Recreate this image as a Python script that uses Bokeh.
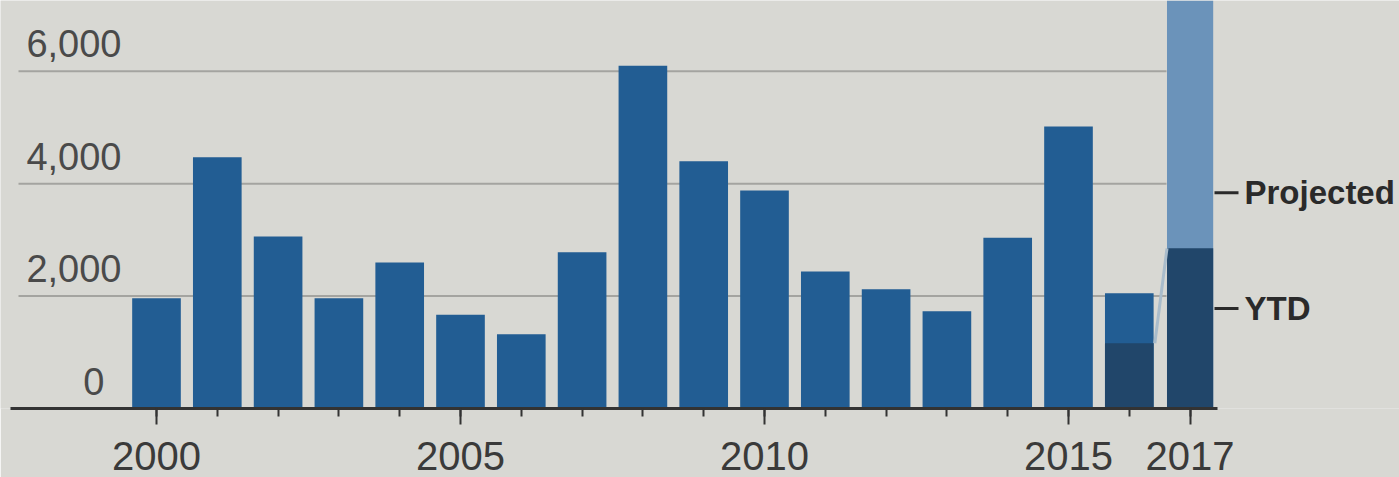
from bokeh.plotting import figure
from bokeh.models import FixedTicker, Range1d
from bokeh.core.properties import value
from bokeh.embed import file_html
from bokeh.resources import INLINE

# ---- data ----
years = list(range(2000, 2017))
totals = [1960, 4470, 3060, 1960, 2600, 1670, 1320, 2780, 6100, 4400,
          3880, 2440, 2120, 1730, 3040, 5020, 2050]
ytd_years = [2016, 2017]
ytd_values = [1160, 2850]
proj_year = 2017
proj_value = 7600

grid_values = [2000, 4000, 6000]
y_tick_labels = ["2,000", "4,000", "6,000"]
zero_label = ["0"]
major_ticks = [2000, 2005, 2010, 2015, 2017]
minor_ticks = list(range(2000, 2018))
side_labels = ["Projected", "YTD"]
side_label_y = [3840, 1780]

BG = "#d8d8d3"
BLUE = "#225d93"
DARK = "#21466a"
LIGHT = "#6b93ba"
TEXT = "#3a3a3a"

W_PX, H_PX = 1399, 477
px_per_year = 60.8
x_center_2000 = 156
x0 = 2000 - x_center_2000 / px_per_year
x1 = 2000 + (W_PX - x_center_2000) / px_per_year


def xp(px):
    """page pixel -> data x"""
    return 2000 + (px - x_center_2000) / px_per_year


p = figure(width=W_PX, height=H_PX, output_backend="svg", toolbar_location=None,
           y_axis_location=None, x_range=Range1d(x0, x1), y_range=Range1d(0, 7260))
p.min_border_left = 0
p.min_border_right = 0
p.min_border_top = 0
p.min_border_bottom = 69
p.outline_line_color = None
p.background_fill_color = BG
p.border_fill_color = BG
p.xgrid.visible = False
p.ygrid.visible = False

# grid lines
p.segment(x0=[xp(18)] * len(grid_values), x1=[xp(1166)] * len(grid_values),
          y0=grid_values, y1=grid_values, line_color="#a4a4a0", line_width=2)

# bars
p.vbar(x=years, top=totals, width=0.8, bottom=0, fill_color=BLUE, line_color=None)
p.vbar(x=[proj_year], top=[proj_value], width=0.76, bottom=0, fill_color=LIGHT, line_color=None)
p.vbar(x=[ytd_years[0]], top=[ytd_values[0]], width=0.8, bottom=0, fill_color=DARK, line_color=None)
p.vbar(x=[ytd_years[1]], top=[ytd_values[1]], width=0.76, bottom=0, fill_color=DARK, line_color=None)

# connector YTD 2016 -> 2017
p.segment(x0=[ytd_years[0] + 0.42], y0=[ytd_values[0]], x1=[ytd_years[1] - 0.38], y1=[ytd_values[1]],
          line_color="#a9bccb", line_width=3)

# y tick labels (above grid lines)
p.text(x=[xp(121)] * len(grid_values), y=grid_values, text=y_tick_labels,
       text_align="right", text_baseline="bottom", y_offset=-14,
       text_font=value("Liberation Sans"), text_font_size="38px", text_color="#4a4a4a")
p.text(x=[xp(104)], y=[0], text=zero_label,
       text_align="right", text_baseline="bottom", y_offset=-14,
       text_font=value("Liberation Sans"), text_font_size="38px", text_color="#4a4a4a")

# side labels
p.segment(x0=[xp(1214)] * 2, x1=[xp(1238)] * 2, y0=side_label_y, y1=side_label_y,
          line_color="#2a2a2a", line_width=3)
p.text(x=[xp(1244)] * 2, y=side_label_y, text=side_labels,
       text_align="left", text_baseline="middle",
       text_font=value("Liberation Sans"), text_font_style="bold",
       text_font_size="33px", text_color="#2a2a2a")

# x axis
ax = p.xaxis[0]
ax.ticker = FixedTicker(ticks=major_ticks, minor_ticks=minor_ticks)
ax.bounds = (xp(10), xp(1217))
ax.axis_line_color = "#333333"
ax.axis_line_width = 3
ax.major_tick_line_color = "#333333"
ax.major_tick_line_width = 2
ax.major_tick_out = 16
ax.major_tick_in = 0
ax.minor_tick_line_color = "#333333"
ax.minor_tick_line_width = 2
ax.minor_tick_out = 8
ax.minor_tick_in = 0
ax.major_label_standoff = 17
ax.major_label_text_font = "Liberation Sans"
ax.major_label_text_font_size = "40px"
ax.major_label_text_color = TEXT

html = file_html(p, INLINE)
html = html.replace("<body>", '<body style="background:%s">' % BG, 1)
open("out.html", "w").write(html)
